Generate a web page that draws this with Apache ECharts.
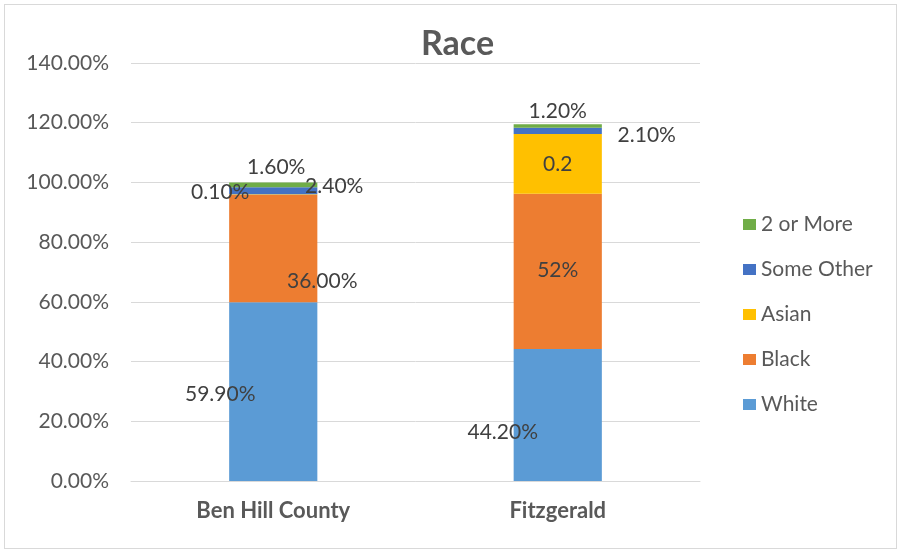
<!DOCTYPE html>
<html>
<head>
<meta charset="utf-8">
<script src="https://cdn.jsdelivr.net/npm/echarts@6/dist/echarts.min.js"></script>
<style>
  html, body { margin: 0; padding: 0; background: #fff; }
  #frame {
    position: absolute; left: 4px; top: 4px; width: 893px; height: 545px;
    border: 1px solid #d9d9d9; box-sizing: border-box;
  }
  #chart { position: absolute; left: 0; top: 0; width: 904px; height: 555px; }
</style>
</head>
<body>
<div id="frame"></div>
<div id="chart"></div>
<script>
const categories = ['Ben Hill County', 'Fitzgerald']
const seriesNames = ['White', 'Black', 'Asian', 'Some Other', '2 or More']
const white = [0.599, 0.442]
const black = [0.36, 0.52]
const asian = [0.001, 0.2]
const someOther = [0.024, 0.021]
const twoOrMore = [0.016, 0.012]
const yTicks = [0, 0.2, 0.4, 0.6, 0.8, 1.0, 1.2, 1.4]

// number formats of each label, as shown in the source (per series, per category)
const labelFormats = [
  ['pct2', 'pct2'],
  ['pct2', 'pct0'],
  ['pct2', 'general'],
  ['pct2', 'pct2'],
  ['pct2', 'pct2']
]
// hand-moved label offsets, per series, per category
const labelOffsets = [
  [[-53, 3], [-55, 17]],
  [[49, 33], [0, -1]],
  [[-53, -2], [0, 0]],
  [[61, -5], [89, 4]],
  [[3, -18], [0, -15]]
]

const colors = ['#5B9BD5', '#ED7D31', '#FFC000', '#4472C4', '#70AD47']
const seriesValues = [white, black, asian, someOther, twoOrMore]
const font = 'Lato, "Open Sans", sans-serif'
const fs = 21

const fmt = (v, kind) => {
  if (kind === 'pct0') return Math.round(v * 100) + '%'
  if (kind === 'general') return String(v)
  return (v * 100).toFixed(2) + '%'
}

const chart = echarts.init(document.getElementById('chart'))

chart.setOption({
  animation: false,
  title: {
    text: 'Race',
    left: 416,
    top: 22,
    textStyle: { fontFamily: font, fontSize: 34, fontWeight: 'bold', color: '#595959' }
  },
  legend: {
    orient: 'vertical',
    left: 738,
    top: 209,
    itemGap: 24,
    itemWidth: 13,
    itemHeight: 11,
    icon: 'rect',
    data: ['2 or More', 'Some Other', 'Asian', 'Black', 'White'],
    textStyle: { fontFamily: font, fontSize: fs, color: '#595959', padding: [0, 0, 0, 0] }
  },
  grid: { left: 131, right: 204, top: 63, bottom: 74 },
  xAxis: {
    type: 'category',
    data: categories,
    axisTick: { show: false },
    axisLine: { lineStyle: { color: '#d9d9d9' } },
    axisLabel: { fontFamily: font, fontSize: fs + 1, fontWeight: 'bold', color: '#595959', margin: 19 }
  },
  yAxis: {
    type: 'value',
    min: yTicks[0],
    max: yTicks[yTicks.length - 1],
    interval: 0.2,
    axisLine: { show: false },
    axisTick: { show: false },
    splitLine: { lineStyle: { color: '#d9d9d9' } },
    axisLabel: {
      fontFamily: font, fontSize: fs, color: '#595959', margin: 22,
      formatter: v => (v * 100).toFixed(2) + '%'
    }
  },
  series: seriesNames.map((name, si) => ({
    name,
    type: 'bar',
    stack: 'race',
    barWidth: '31%',
    itemStyle: { color: colors[si] },
    data: seriesValues[si].map((v, ci) => ({
      value: v,
      label: {
        show: true,
        position: 'inside',
        offset: labelOffsets[si][ci],
        formatter: () => fmt(v, labelFormats[si][ci]),
        fontFamily: font,
        fontSize: fs,
        color: '#404040'
      }
    }))
  }))
})
</script>
</body>
</html>
